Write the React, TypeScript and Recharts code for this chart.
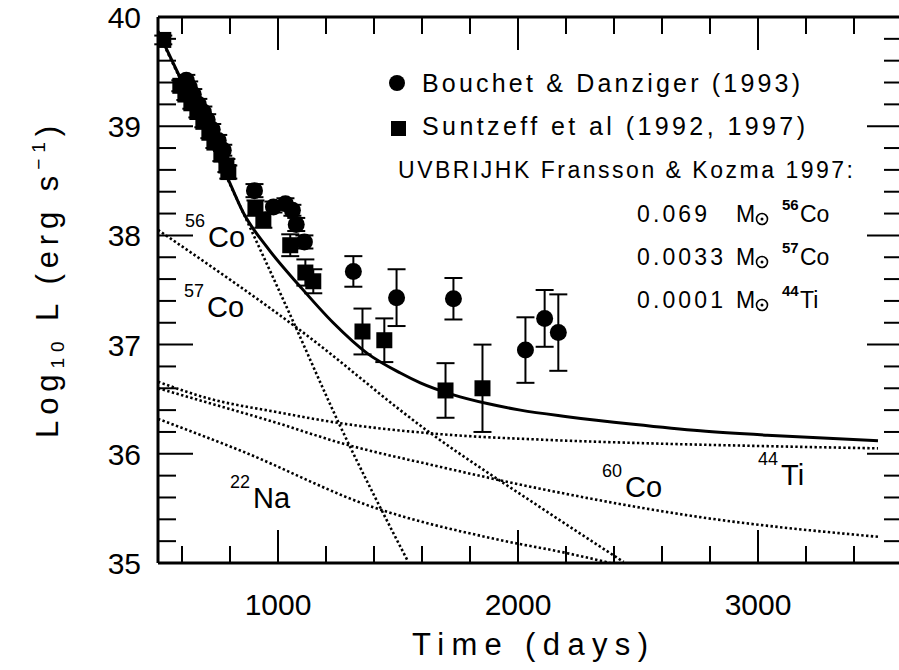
import React from 'react';
import { ComposedChart, Line, Scatter, XAxis, YAxis, ErrorBar } from 'recharts';

// Bouchet & Danziger (1993) - circles
const bouchetDays = [618, 630, 647, 668, 689, 705, 726, 751, 772, 902, 981, 1031, 1060, 1076, 1110, 1314, 1494, 1731, 2031, 2111, 2168];
const bouchetLogL = [39.42, 39.36, 39.29, 39.2, 39.13, 39.06, 38.97, 38.87, 38.78, 38.41, 38.26, 38.29, 38.23, 38.1, 37.94, 37.67, 37.43, 37.42, 36.95, 37.24, 37.11];
const bouchetErr = [0.05, 0.05, 0.05, 0.05, 0.05, 0.05, 0.05, 0.05, 0.05, 0.06, 0.05, 0.05, 0.05, 0.06, 0.06, 0.14, 0.26, 0.19, 0.3, 0.26, 0.35];

// Suntzeff et al (1992, 1997) - squares
const suntzeffDays = [522, 593, 614, 639, 664, 689, 714, 735, 764, 785, 793, 906, 939, 1051, 1114, 1147, 1352, 1443, 1698, 1852];
const suntzeffLogL = [39.79, 39.37, 39.29, 39.21, 39.13, 39.04, 38.94, 38.85, 38.74, 38.64, 38.58, 38.25, 38.14, 37.91, 37.66, 37.58, 37.12, 37.04, 36.58, 36.6];
const suntzeffErr = [0.04, 0.05, 0.05, 0.05, 0.05, 0.05, 0.05, 0.05, 0.06, 0.06, 0.06, 0.07, 0.07, 0.1, 0.12, 0.11, 0.21, 0.2, 0.25, 0.4];

// model: total
const totalDays = [500, 650, 793, 855, 955, 1093, 1230, 1372, 1510, 1593, 1731, 1872, 2010, 2205, 2480, 2759, 3038, 3313, 3500];
const totalLogL = [39.87, 39.18, 38.51, 38.21, 37.89, 37.53, 37.2, 36.92, 36.74, 36.65, 36.54, 36.46, 36.4, 36.34, 36.27, 36.21, 36.17, 36.14, 36.12];

// model components
const co56Days = [500, 793, 1047, 1260, 1538];
const co56LogL = [39.86, 38.5, 37.29, 36.25, 35.03];
const co57Days = [500, 1093, 1635, 2093, 2440];
const co57LogL = [38.05, 37.13, 36.19, 35.51, 35.01];
const ti44Days = [500, 705, 1000, 1260, 1677, 2093, 2480, 3038, 3500];
const ti44LogL = [36.66, 36.51, 36.38, 36.28, 36.18, 36.13, 36.1, 36.07, 36.05];
const co60Days = [500, 705, 1000, 1260, 1677, 2093, 2759, 3500];
const co60LogL = [36.6, 36.47, 36.28, 36.1, 35.88, 35.68, 35.42, 35.24];
const na22Days = [500, 843, 1398, 1926, 2205, 2385];
const na22LogL = [36.32, 36.03, 35.51, 35.21, 35.09, 35.0];

const xTicks = [600, 800, 1000, 1200, 1400, 1600, 1800, 2000, 2200, 2400, 2600, 2800, 3000, 3200, 3400];
const yTicks = [35, 35.2, 35.4, 35.6, 35.8, 36, 36.2, 36.4, 36.6, 36.8, 37, 37.2, 37.4, 37.6, 37.8, 38, 38.2, 38.4, 38.6, 38.8, 39, 39.2, 39.4, 39.6, 39.8, 40];

const pts = (xs: number[], ys: number[], es?: number[]) =>
  xs.map((x, i) => ({ x, y: ys[i], err: es ? es[i] : 0 }));

const FONT = '"Liberation Sans", Arial, sans-serif';

const isMajorX = (v: number) => v % 1000 === 0;
const isMajorY = (v: number) => Math.abs(v - Math.round(v)) < 1e-6;

const XTick = (props: any) => {
  const { x, y, payload, side } = props;
  const v = payload.value;
  const len = isMajorX(v) ? 33 : 17;
  const dir = side === 'bottom' ? -1 : 1;
  return (
    <g>
      <line x1={x} y1={y} x2={x} y2={y + dir * len} stroke="#000" strokeWidth={2} />
      {side === 'bottom' && isMajorX(v) && (
        <text x={x} y={y + 52} textAnchor="middle" fontSize={30} fontFamily={FONT} fill="#000">
          {v}
        </text>
      )}
    </g>
  );
};

const YTick = (props: any) => {
  const { x, y, payload, side } = props;
  const v = payload.value;
  const len = isMajorY(v) ? 35 : 18;
  const dir = side === 'left' ? 1 : -1;
  return (
    <g>
      <line x1={x} y1={y} x2={x + dir * len} y2={y} stroke="#000" strokeWidth={2} />
      {side === 'left' && isMajorY(v) && (
        <text x={x - 17} y={y + 11} textAnchor="end" fontSize={30} fontFamily={FONT} fill="#000">
          {Math.round(v)}
        </text>
      )}
    </g>
  );
};

const circleShape = (p: any) => <circle cx={p.cx} cy={p.cy} r={8.5} fill="#000" />;
const squareShape = (p: any) => <rect x={p.cx - 8} y={p.cy - 8} width={16} height={16} fill="#000" />;

const dotted = { stroke: '#000', strokeWidth: 2.6, strokeDasharray: '2.4 2.4' };

const Iso = ({ x, y, mass, sym }: { x: number; y: number; mass: string; sym: string }) => (
  <g fontFamily={FONT} fill="#000">
    <text x={x} y={y - 20} fontSize={18}>{mass}</text>
    <text x={x + 23} y={y} fontSize={29}>{sym}</text>
  </g>
);

const MassRow = ({ y, val, iso, sym }: { y: number; val: string; iso: string; sym: string }) => (
  <g fontFamily={FONT} fill="#000">
    <text x={637} y={y} fontSize={23} textLength={val.length > 5 ? 86 : 70} lengthAdjust="spacing">{val}</text>
    <text x={736} y={y} fontSize={23}>M</text>
    <circle cx={762} cy={y - 3} r={5.5} fill="none" stroke="#000" strokeWidth={1.6} />
    <circle cx={762} cy={y - 3} r={1.5} fill="#000" />
    <text x={782} y={y - 12} fontSize={15} fontWeight="bold">{iso}</text>
    <text x={800} y={y} fontSize={23}>{sym}</text>
  </g>
);

export default function App() {
  return (
    <div style={{ position: 'absolute', left: 0, top: 0, width: 899, height: 670, overflow: 'hidden', background: '#fff' }}>
      <ComposedChart width={920} height={670} margin={{ top: 12, right: 8, bottom: 7, left: 0 }}>
        <XAxis
          xAxisId={0}
          dataKey="x"
          type="number"
          domain={[500, 3600]}
          allowDataOverflow
          ticks={xTicks}
          interval={0}
          height={100}
          tickSize={0}
          tickMargin={0}
          tickLine={false}
          axisLine={{ stroke: '#000', strokeWidth: 3 }}
          tick={(p: any) => <XTick {...p} side="bottom" />}
        />
        <XAxis
          xAxisId="top"
          orientation="top"
          dataKey="x"
          type="number"
          domain={[500, 3600]}
          allowDataOverflow
          ticks={xTicks}
          interval={0}
          height={5}
          tickSize={0}
          tickMargin={0}
          tickLine={false}
          axisLine={{ stroke: '#000', strokeWidth: 3 }}
          tick={(p: any) => <XTick {...p} side="top" />}
        />
        <YAxis
          yAxisId={0}
          type="number"
          domain={[35, 40]}
          allowDataOverflow
          ticks={yTicks}
          interval={0}
          width={158}
          tickSize={0}
          tickMargin={0}
          tickLine={false}
          axisLine={{ stroke: '#000', strokeWidth: 3 }}
          tick={(p: any) => <YTick {...p} side="left" />}
        />
        <YAxis
          yAxisId="right"
          orientation="right"
          type="number"
          domain={[35, 40]}
          allowDataOverflow
          ticks={yTicks}
          interval={0}
          width={10}
          tickSize={0}
          tickMargin={0}
          tickLine={false}
          axisLine={{ stroke: '#000', strokeWidth: 3 }}
          tick={(p: any) => <YTick {...p} side="right" />}
        />
        <Line data={pts(co56Days, co56LogL)} dataKey="y" type="monotone" dot={false} isAnimationActive={false} {...dotted} />
        <Line data={pts(co57Days, co57LogL)} dataKey="y" type="monotone" dot={false} isAnimationActive={false} {...dotted} />
        <Line data={pts(ti44Days, ti44LogL)} dataKey="y" type="monotone" dot={false} isAnimationActive={false} {...dotted} />
        <Line data={pts(co60Days, co60LogL)} dataKey="y" type="monotone" dot={false} isAnimationActive={false} {...dotted} />
        <Line data={pts(na22Days, na22LogL)} dataKey="y" type="monotone" dot={false} isAnimationActive={false} {...dotted} />
        <Line data={pts(totalDays, totalLogL)} dataKey="y" type="monotone" dot={false} stroke="#000" strokeWidth={3} isAnimationActive={false} />
        <Scatter data={pts(bouchetDays, bouchetLogL, bouchetErr)} dataKey="y" shape={circleShape} isAnimationActive={false}>
          <ErrorBar dataKey="err" direction="y" width={9} stroke="#000" strokeWidth={2} />
        </Scatter>
        <Scatter data={pts(suntzeffDays, suntzeffLogL, suntzeffErr)} dataKey="y" shape={squareShape} isAnimationActive={false}>
          <ErrorBar dataKey="err" direction="y" width={9} stroke="#000" strokeWidth={2} />
        </Scatter>
      </ComposedChart>
      <svg width={899} height={670} style={{ position: 'absolute', left: 0, top: 0, pointerEvents: 'none' }}>
        <g fontFamily={FONT} fill="#000">
          <text x={412} y={655} fontSize={31} textLength={236} lengthAdjust="spacing">Time (days)</text>
          <text x={58} y={438} fontSize={31} transform="rotate(-90 58 438)" textLength={312} lengthAdjust="spacing">
            Log<tspan fontSize={19} dy={6}>10</tspan>
            <tspan dy={-6}> L (erg s</tspan>
            <tspan fontSize={19} dy={-13}>−1</tspan>
            <tspan dy={13}>)</tspan>
          </text>
          <circle cx={397} cy={83} r={8} />
          <text x={422} y={92} fontSize={25} textLength={378} lengthAdjust="spacing">Bouchet &amp; Danziger (1993)</text>
          <rect x={391} y={121} width={15} height={15} />
          <text x={422} y={135} fontSize={25} textLength={383} lengthAdjust="spacing">Suntzeff et al (1992, 1997)</text>
          <text x={398} y={178} fontSize={23} textLength={455} lengthAdjust="spacing">UVBRIJHK Fransson &amp; Kozma 1997:</text>
        </g>
        <MassRow y={222} val="0.069" iso="56" sym="Co" />
        <MassRow y={265} val="0.0033" iso="57" sym="Co" />
        <MassRow y={308} val="0.0001" iso="44" sym="Ti" />
        <Iso x={185} y={247} mass="56" sym="Co" />
        <Iso x={184} y={317} mass="57" sym="Co" />
        <Iso x={230} y={508} mass="22" sym="Na" />
        <Iso x={602} y={497} mass="60" sym="Co" />
        <Iso x={758} y={485} mass="44" sym="Ti" />
      </svg>
    </div>
  );
}
